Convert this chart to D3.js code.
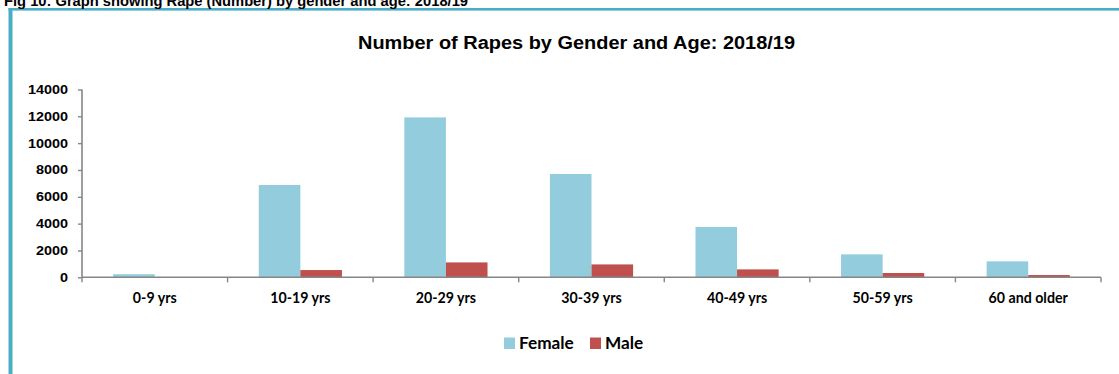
<!DOCTYPE html>
<html><head><meta charset="utf-8">
<script src="https://cdn.jsdelivr.net/npm/d3@7"></script>
<style>
html,body{margin:0;padding:0;background:#fff;overflow:hidden}
svg{display:block}
</style></head>
<body>
<svg id="c" width="1119" height="374"></svg>
<script>
const categories = ["0-9 yrs","10-19 yrs","20-29 yrs","30-39 yrs","40-49 yrs","50-59 yrs","60 and older"];
const seriesNames = ["Female","Male"];
const female = [230, 6880, 11920, 7700, 3750, 1710, 1190];
const male = [20, 540, 1110, 960, 590, 320, 170];
const yTicks = [0,2000,4000,6000,8000,10000,12000,14000];
const colors = {Female:"#93CDDD", Male:"#C0504D"};
const headerText = "Fig 10: Graph showing Rape (Number) by gender and age: 2018/19";
const titleText = "Number of Rapes by Gender and Age: 2018/19";

const svg = d3.select("#c");
const values = {Female: female, Male: male};

// frame
svg.append("rect").attr("x",8.5).attr("y",8).attr("width",1119-8.5).attr("height",2.6).attr("fill","#4BACC6");
svg.append("rect").attr("x",8.5).attr("y",8).attr("width",4).attr("height",374-8).attr("fill","#4BACC6");

// header text (cut off at top, as in the reference)
svg.append("text").attr("x",4).attr("y",5.5)
  .attr("font-family","Liberation Sans, Arial, sans-serif").attr("font-weight","bold")
  .attr("font-size",14.6).attr("fill","#000")
  .attr("textLength",464).attr("lengthAdjust","spacingAndGlyphs")
  .text(headerText);

// title
svg.append("text").attr("x",576.5).attr("y",49).attr("text-anchor","middle")
  .attr("font-family","Liberation Sans, Arial, sans-serif").attr("font-weight","bold")
  .attr("font-size",18.8).attr("fill","#000")
  .attr("textLength",437).attr("lengthAdjust","spacingAndGlyphs")
  .text(titleText);

const x = d3.scaleBand().domain(categories).range([82,1101]).paddingInner(0).paddingOuter(0);
const xs = d3.scaleBand().domain(seriesNames).range([0,x.bandwidth()]).paddingInner(0).paddingOuter(0.75);
const y = d3.scaleLinear().domain([0,14000]).range([277.3,89.5]);

// bars
seriesNames.forEach(s=>{
  svg.append("g").selectAll("rect").data(categories).join("rect")
    .attr("x",(c)=>x(c)+xs(s))
    .attr("y",(c,i)=>y(values[s][i]))
    .attr("width",xs.bandwidth())
    .attr("height",(c,i)=>y(0)-y(values[s][i]))
    .attr("fill",colors[s]);
});

// y axis
const yAxis = svg.append("g").attr("transform","translate(82,0)")
  .call(d3.axisLeft(y).tickValues(yTicks).tickSize(4).tickPadding(10).tickFormat(d3.format("d")));
yAxis.select(".domain").attr("stroke","#868686").attr("stroke-width",1.6).attr("d","M0,89.5V277.3");
yAxis.selectAll(".tick line").attr("stroke","#868686").attr("stroke-width",1.4);
yAxis.selectAll(".tick text").attr("font-family","Liberation Sans, Arial, sans-serif")
  .attr("font-weight","bold").attr("font-size",12).attr("fill","#000")
  .each(function(){ const w=this.getComputedTextLength(); d3.select(this).attr("textLength",w*1.2).attr("lengthAdjust","spacingAndGlyphs"); });

// x axis line and ticks
const xg = svg.append("g");
xg.append("line").attr("x1",x.range()[0]).attr("x2",x.range()[1]).attr("y1",y(0)).attr("y2",y(0))
  .attr("stroke","#868686").attr("stroke-width",1.6);
const bounds = categories.map(c=>x(c)).concat([x(categories[categories.length-1])+x.bandwidth()]);
xg.selectAll("line.t").data(bounds).join("line").attr("class","t")
  .attr("x1",d=>d).attr("x2",d=>d).attr("y1",y(0)).attr("y2",y(0)+5)
  .attr("stroke","#868686").attr("stroke-width",1.4);
xg.selectAll("text").data(categories).join("text")
  .attr("x",c=>x(c)+x.bandwidth()/2).attr("y",302.7).attr("text-anchor","middle")
  .attr("font-family","Lato, sans-serif").attr("font-weight","bold").attr("font-size",14.2).attr("fill","#000")
  .text(c=>c);

// legend
const lg = svg.append("g");
const legendItems = [{name:"Female", x:504},{name:"Male", x:590}];
legendItems.forEach(it=>{
  lg.append("rect").attr("x",it.x).attr("y",337.5).attr("width",11).attr("height",11.5).attr("fill",colors[it.name]);
  lg.append("text").attr("x",it.x+15).attr("y",349.3).attr("font-family","Lato, sans-serif")
    .attr("font-weight","bold").attr("font-size",17.2).attr("fill","#000").text(it.name);
});
</script>
</body></html>
